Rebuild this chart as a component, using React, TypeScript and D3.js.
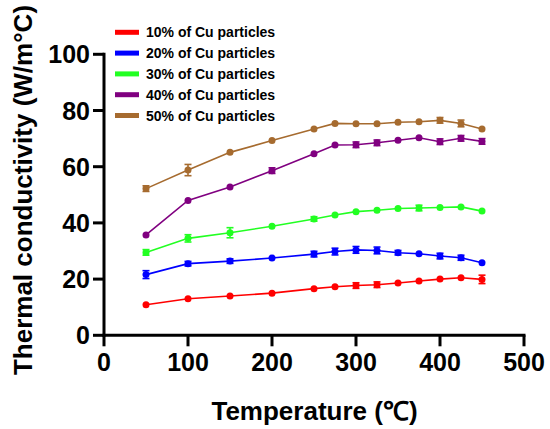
import React from "react";
import * as d3 from "d3";

const temps = [50, 100, 150, 200, 250, 275, 300, 325, 350, 375, 400, 425, 450];
const labels = [
  "10% of Cu particles",
  "20% of Cu particles",
  "30% of Cu particles",
  "40% of Cu particles",
  "50% of Cu particles",
];
const colors = ["#ff0000", "#0000ff", "#22ff22", "#800080", "#a66b2f"];
const cu10 = [10.9, 13.0, 14.0, 15.0, 16.6, 17.3, 17.7, 18.0, 18.6, 19.3, 20.0, 20.5, 19.9];
const cu10Err = [0, 0, 0, 0, 0, 0, 1.0, 1.0, 0, 0, 0, 0, 1.5];
const cu20 = [21.6, 25.5, 26.4, 27.5, 28.9, 29.8, 30.4, 30.2, 29.4, 29.0, 28.2, 27.6, 25.8];
const cu20Err = [1.4, 0.8, 0.8, 0, 1.0, 1.2, 1.2, 1.2, 0.8, 0, 1.0, 0.9, 0];
const cu30 = [29.5, 34.5, 36.5, 38.8, 41.4, 42.8, 44.0, 44.5, 45.1, 45.3, 45.5, 45.7, 44.2];
const cu30Err = [1.0, 1.3, 1.8, 0, 0.8, 0, 0, 0, 0, 1.0, 0, 0, 0];
const cu40 = [35.7, 48.0, 52.8, 58.6, 64.6, 67.7, 67.8, 68.5, 69.4, 70.3, 68.9, 70.1, 69.0];
const cu40Err = [0, 0, 0, 1.0, 0, 0, 1.0, 1.0, 0, 0, 1.0, 1.0, 1.0];
const cu50 = [52.2, 58.8, 65.1, 69.3, 73.4, 75.4, 75.3, 75.3, 75.8, 76.0, 76.5, 75.4, 73.4];
const cu50Err = [1.0, 2.0, 0, 0, 0, 0, 0, 0, 0, 0, 1.0, 1.2, 0];
const xTicks = [0, 100, 200, 300, 400, 500];
const yTicks = [0, 20, 40, 60, 80, 100];

const seriesValues = [cu10, cu20, cu30, cu40, cu50];
const seriesErrors = [cu10Err, cu20Err, cu30Err, cu40Err, cu50Err];

export default function App() {
  const W = 550;
  const H = 429;
  const x = d3.scaleLinear().domain([0, 500]).range([104, 524]);
  const y = d3.scaleLinear().domain([0, 100]).range([335.3, 54.3]);
  const font = "'Liberation Sans', Arial, Helvetica, sans-serif";
  const line = d3
    .line<number>()
    .x((_, i) => x(temps[i]))
    .y((d) => y(d));

  return (
    <svg
      width={W}
      height={H}
      style={{ position: "absolute", left: 0, top: 0, background: "#fff" }}
      fontFamily={font}
    >
      <rect width={W} height={H} fill="#fff" />
      {/* series */}
      {seriesValues.map((vals, s) => (
        <g key={s}>
          <path d={line(vals) || ""} fill="none" stroke={colors[s]} strokeWidth={1.6} />
          {vals.map((v, i) => {
            const e = seriesErrors[s][i];
            const cx = x(temps[i]);
            return (
              <g key={i}>
                {e > 0 && (
                  <g stroke={colors[s]} strokeWidth={1.6}>
                    <line x1={cx} x2={cx} y1={y(v - e)} y2={y(v + e)} />
                    <line x1={cx - 3.5} x2={cx + 3.5} y1={y(v - e)} y2={y(v - e)} />
                    <line x1={cx - 3.5} x2={cx + 3.5} y1={y(v + e)} y2={y(v + e)} />
                  </g>
                )}
                <circle cx={cx} cy={y(v)} r={3.5} fill={colors[s]} />
              </g>
            );
          })}
        </g>
      ))}
      {/* axes */}
      <g stroke="#000" strokeWidth={3} fill="none">
        <line x1={x(0)} x2={x(500)} y1={y(0)} y2={y(0)} strokeLinecap="square" />
        <line x1={x(0)} x2={x(0)} y1={y(0)} y2={y(100)} strokeLinecap="square" />
        {xTicks.map((t) => (
          <line key={"xt" + t} x1={x(t)} x2={x(t)} y1={y(0)} y2={y(0) + 11} />
        ))}
        {yTicks.map((t) => (
          <line key={"yt" + t} x1={x(0) - 11} x2={x(0)} y1={y(t)} y2={y(t)} />
        ))}
      </g>
      {xTicks.map((t) => (
        <text
          key={"xl" + t}
          x={x(t)}
          y={y(0) + 36}
          textAnchor="middle"
          fontSize={25}
          fontWeight="bold"
          fill="#000"
        >
          {t}
        </text>
      ))}
      {yTicks.map((t) => (
        <text
          key={"yl" + t}
          x={x(0) - 14}
          y={y(t) + 9}
          textAnchor="end"
          fontSize={25}
          fontWeight="bold"
          fill="#000"
        >
          {t}
        </text>
      ))}
      {/* axis titles */}
      <text
        x={314.5}
        y={419.5}
        textAnchor="middle"
        fontSize={26}
        fontWeight="bold"
        fill="#000"
      >
        Temperature (℃)
      </text>
      <text
        transform={`translate(32,190) rotate(-90)`}
        textAnchor="middle"
        fontSize={26}
        fontWeight="bold"
        fill="#000"
      >
        Thermal conductivity (W/m°C)
      </text>
      {/* legend */}
      {labels.map((lab, i) => {
        const cy = 32.3 + i * 20.8;
        return (
          <g key={lab}>
            <rect x={115} y={cy - 2.5} width={24} height={5} fill={colors[i]} />
            <text x={146} y={cy + 5} fontSize={14} fontWeight="bold" fill="#000">
              {lab}
            </text>
          </g>
        );
      })}
    </svg>
  );
}
